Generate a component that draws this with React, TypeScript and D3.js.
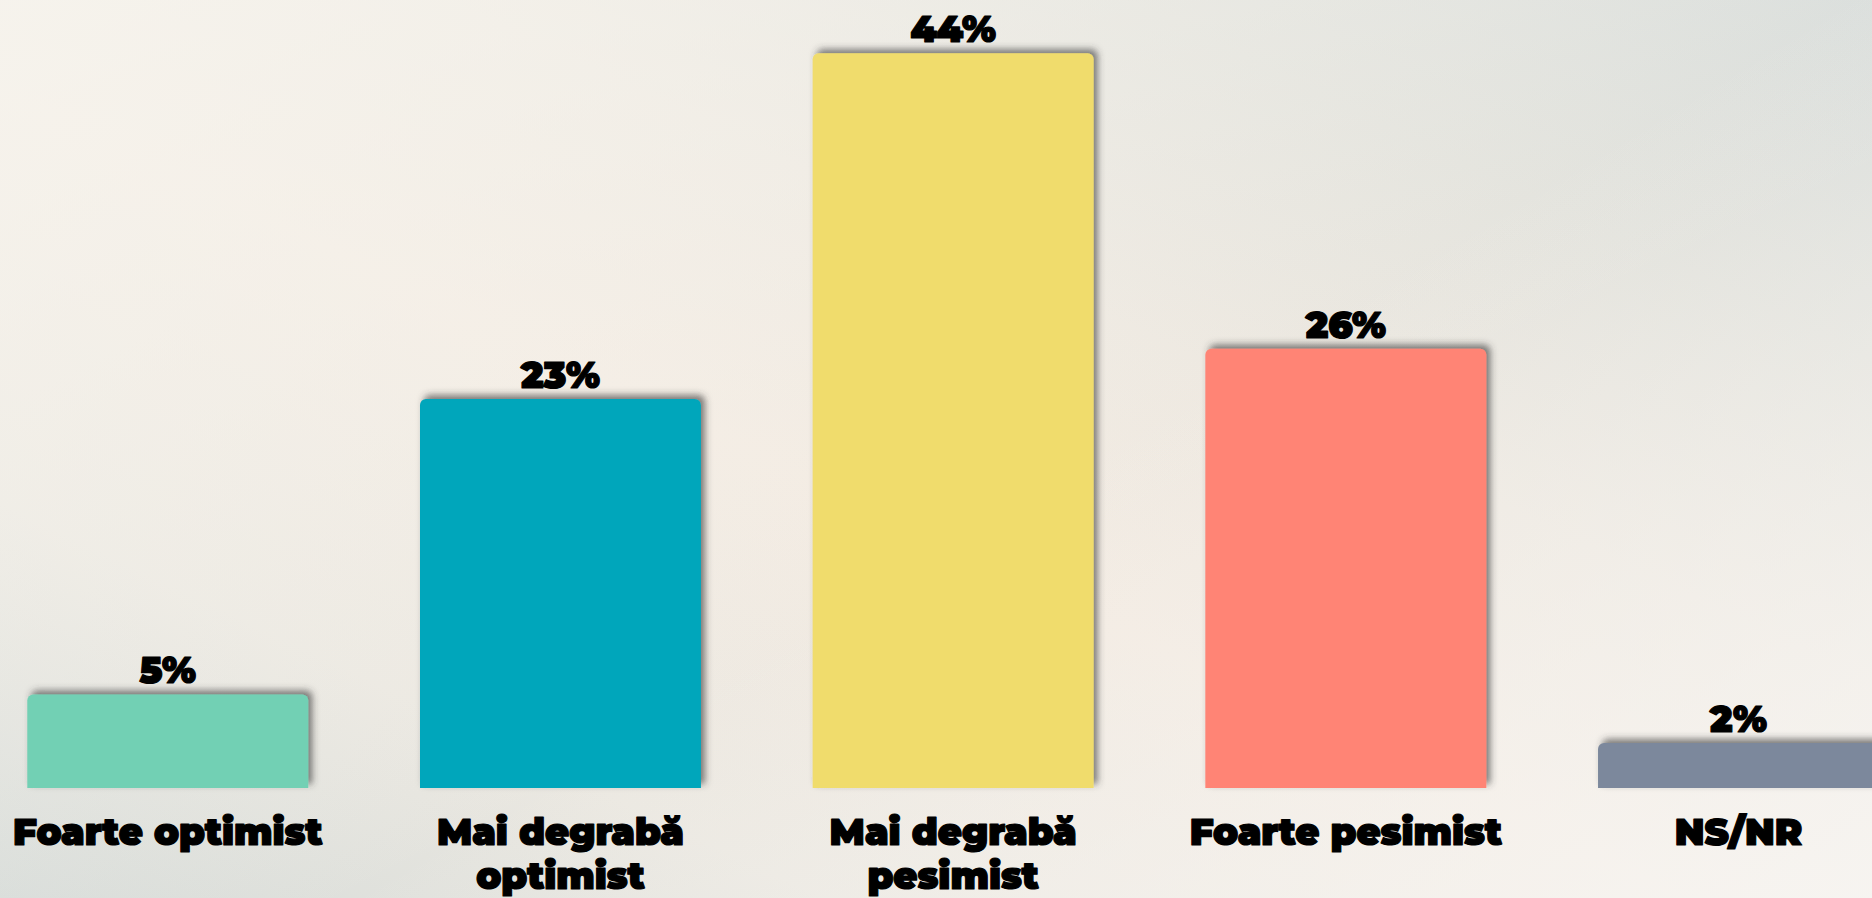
import React from "react";
import * as d3 from "d3";

const categories: string[][] = [
  ["Foarte optimist"],
  ["Mai degrabă", "optimist"],
  ["Mai degrabă", "pesimist"],
  ["Foarte pesimist"],
  ["NS/NR"],
];
const values: number[] = [5.6, 23.3, 44, 26.3, 2.7];
const valueLabels: string[] = ["5%", "23%", "44%", "26%", "2%"];
const colors: string[] = ["#72d0b4", "#00a6bb", "#f0dc6c", "#ff8474", "#7c889c"];

const W = 1872;
const H = 898;
const FONT = "Montserrat, Lato, 'Open Sans', sans-serif";

function topRoundedRect(x: number, y: number, w: number, h: number, r: number) {
  const p = d3.path();
  p.moveTo(x, y + h);
  p.lineTo(x, y + r);
  p.arcTo(x, y, x + r, y, r);
  p.lineTo(x + w - r, y);
  p.arcTo(x + w, y, x + w, y + r, r);
  p.lineTo(x + w, y + h);
  p.closePath();
  return p.toString();
}

export default function App() {
  const idx = categories.map((_, i) => String(i));
  const x = d3.scaleBand<string>().domain(idx).range([27.3, 1879]).paddingInner(0.2845).paddingOuter(0);
  const baseY = 788;
  const y = d3.scaleLinear().domain([0, 44]).range([baseY, 53.3]);
  const bw = x.bandwidth();

  return (
    <svg width={W} height={H} style={{ position: "fixed", left: 0, top: 0, display: "block" }}>
      <defs>
        <linearGradient id="bg" x1="0" y1="1" x2="1" y2="0">
          <stop offset="0" stopColor="#d6dbd8" />
          <stop offset="0.22" stopColor="#ebe8e1" />
          <stop offset="0.45" stopColor="#f3ebe2" />
          <stop offset="0.62" stopColor="#ede8e0" />
          <stop offset="0.8" stopColor="#e2e2dc" />
          <stop offset="1" stopColor="#d7dcda" />
        </linearGradient>
        <linearGradient id="bg2" x1="0" y1="0" x2="0.6" y2="0.6">
          <stop offset="0" stopColor="#f7f5ef" stopOpacity="0.8" />
          <stop offset="1" stopColor="#f7f5ef" stopOpacity="0" />
        </linearGradient>
        <linearGradient id="bg3" x1="1" y1="1" x2="0.5" y2="0.6">
          <stop offset="0" stopColor="#f7f5f2" stopOpacity="0.9" />
          <stop offset="1" stopColor="#f7f5f2" stopOpacity="0" />
        </linearGradient>
        <filter id="shadow" x="-10%" y="-30%" width="130%" height="160%">
          <feDropShadow dx="4" dy="-4" stdDeviation="3.5" floodColor="#3a3a3a" floodOpacity="0.65" />
        </filter>
      </defs>
      <rect x={0} y={0} width={W} height={H} fill="url(#bg)" />
      <rect x={0} y={0} width={W} height={H} fill="url(#bg2)" />
      <rect x={0} y={0} width={W} height={H} fill="url(#bg3)" />
      {values.map((v, i) => {
        const bx = x(String(i))!;
        const top = y(v);
        return (
          <g key={i}>
            <path d={topRoundedRect(bx, top, bw, baseY - top, 6)} fill={colors[i]} filter="url(#shadow)" />
            <text
              x={bx + bw / 2}
              y={top - 11}
              textAnchor="middle"
              fontFamily={FONT}
              fontWeight={900}
              fontSize={37}
              fill="#000"
              stroke="#000"
              strokeWidth={1.2}
              strokeLinejoin="round"
            >
              {valueLabels[i]}
            </text>
            <text
              x={bx + bw / 2}
              y={845}
              textAnchor="middle"
              fontFamily={FONT}
              fontWeight={900}
              fontSize={37}
              fill="#000"
              stroke="#000"
              strokeWidth={1.2}
              strokeLinejoin="round"
            >
              {categories[i].map((line, j) => (
                <tspan key={j} x={bx + bw / 2} dy={j === 0 ? 0 : 44}>
                  {line}
                </tspan>
              ))}
            </text>
          </g>
        );
      })}
    </svg>
  );
}
